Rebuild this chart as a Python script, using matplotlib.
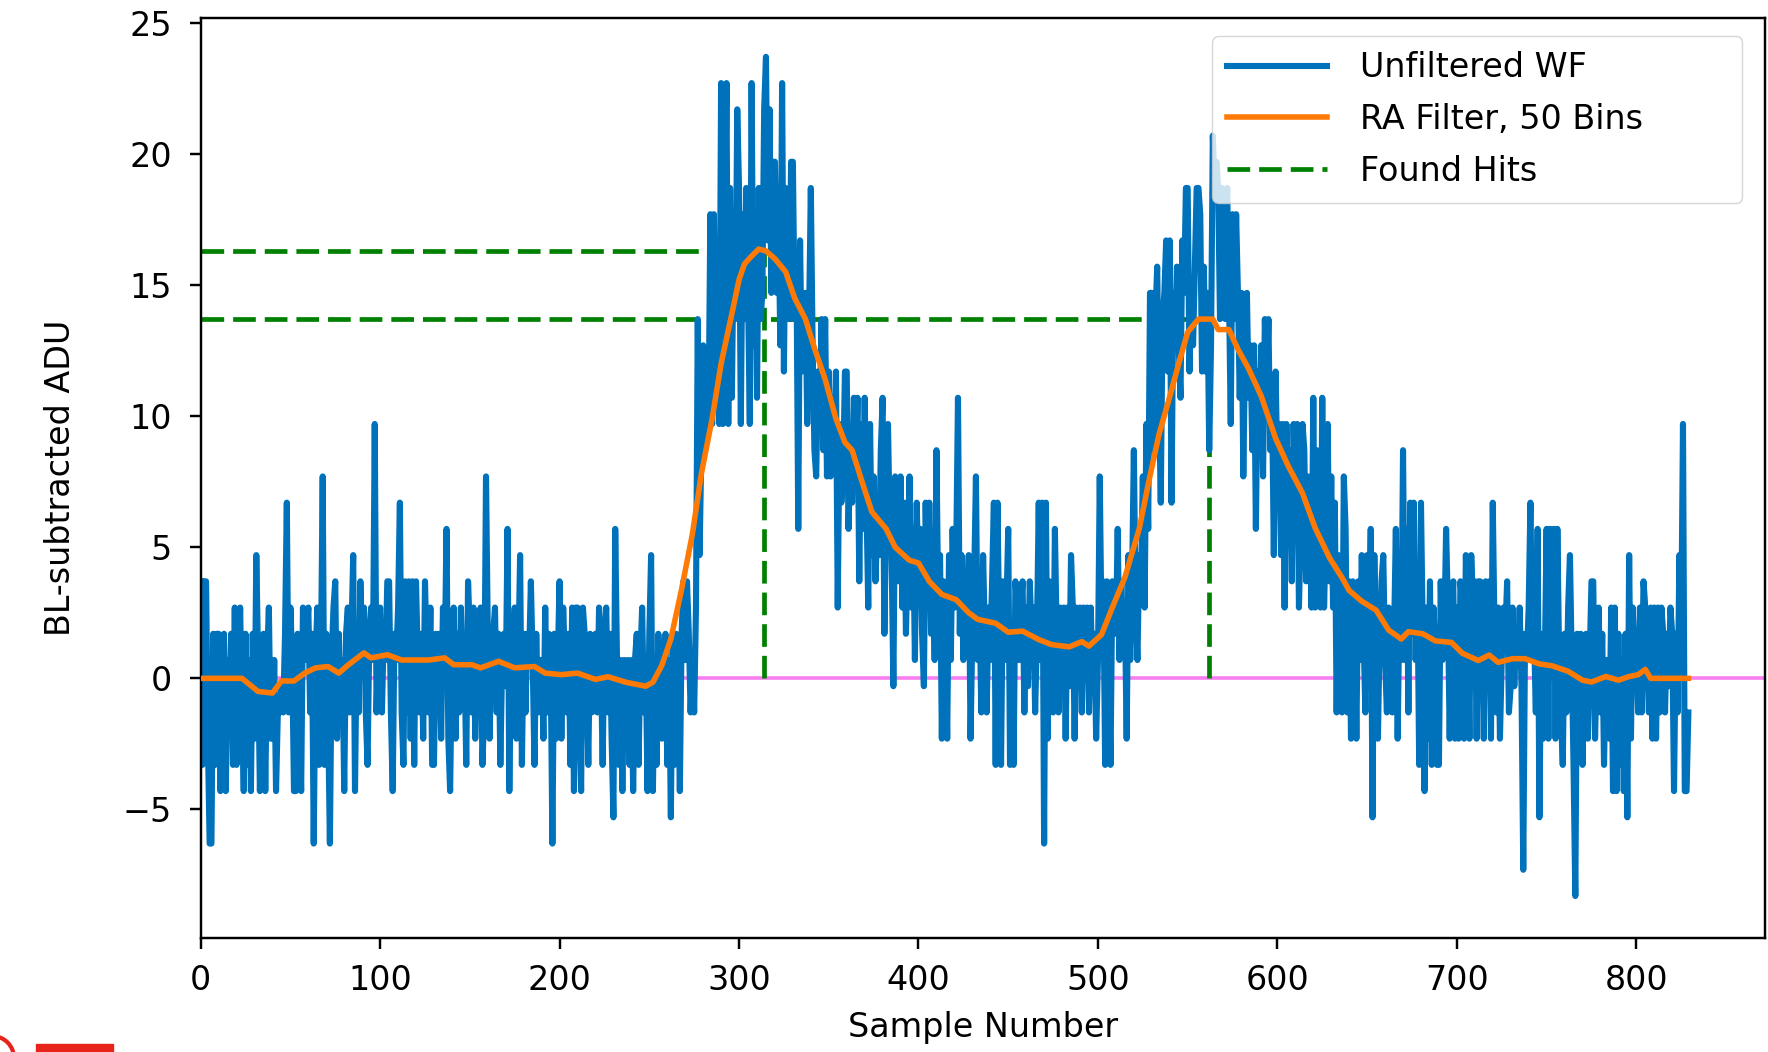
import numpy as np
import matplotlib
matplotlib.use('Agg')
from matplotlib import pyplot as plt
from matplotlib.patches import Rectangle, Arc
from matplotlib.transforms import IdentityTransform

# raw waveform counts, one value per sample (baseline is subtracted below)
wf_counts = [
    4, -3, 4, 4, -2, -6, -6, 2, -3, 2,
    2, -4, 1, 2, -4, 1, -1, 2, -3, 3,
    -3, 1, 3, -1, -4, 2, -3, 1, -4, 2,
    -2, 5, 1, -4, -1, 2, -4, 1, 3, -2,
    -2, 1, -4, -1, -1, 0, -1, 2, 7, -1,
    3, 1, -4, -4, 2, -1, -4, 3, 1, 2,
    3, -1, 2, -6, 1, 3, -3, 1, 8, -3,
    2, -1, -6, 1, 3, 4, -2, 2, -1, 1,
    -4, 2, 3, -1, 2, 5, -4, 2, -1, 4,
    1, 3, -1, -3, 2, 3, 1, 10, -1, 2,
    3, -1, 2, 1, 4, 4, -1, -4, 2, 1,
    3, 7, -1, -3, 4, -1, 4, -2, 4, -3,
    4, 1, -1, 2, -2, 4, 1, -1, 3, -3,
    -3, 2, 1, 2, -2, 3, 1, 6, -2, -4,
    1, 3, -2, 2, -1, 3, 0, 1, -3, 4,
    2, -1, 3, -2, 1, 2, 3, -3, -1, 8,
    2, -2, 1, 2, 3, -1, 2, -3, 1, 2,
    0, 6, -4, 2, 1, 3, -2, 1, 5, -3,
    2, -1, 2, 1, 4, 1, -3, 2, -1, 1,
    1, -2, 3, -1, 2, 1, -6, 2, -2, 1,
    4, -2, 3, 1, -1, 2, -3, 3, -4, 3,
    3, -1, -4, 3, 2, 1, -3, 2, -1, 1,
    2, -1, 3, 1, -3, 2, 3, -1, 2, -2,
    -5, 6, 1, -3, 1, -4, 1, 0, 1, -3,
    1, -4, 1, 2, -3, 1, 3, -1, 1, -4,
    2, 5, -4, 1, -3, 2, 1, -2, 0, 2,
    -3, 1, -5, 2, -3, 2, 1, -4, 2, 4,
    1, 4, 2, -1, 1, -1, 3, 14, 5, 9,
    13, 9, 12, 10, 18, 10, 18, 11, 17, 10,
    23, 10, 16, 23, 10, 19, 11, 17, 14, 22,
    19, 10, 18, 14, 19, 15, 10, 23, 13, 18,
    11, 19, 14, 15, 22, 24, 17, 22, 15, 20,
    20, 15, 18, 13, 23, 12, 19, 17, 14, 20,
    20, 14, 16, 6, 17, 12, 13, 15, 10, 14,
    19, 13, 9, 8, 12, 10, 14, 9, 14, 8,
    12, 8, 11, 9, 12, 3, 10, 7, 8, 12,
    12, 6, 9, 7, 11, 8, 11, 4, 10, 6,
    11, 7, 3, 10, 5, 8, 4, 6, 5, 9,
    11, 2, 7, 10, 6, 5, 0, 8, 7, 4,
    8, 3, 7, 2, 5, 8, 3, 6, 1, 7,
    4, 6, 2, 0, 7, 3, 7, 2, 5, 1,
    9, 3, 5, -2, 4, 2, -2, 5, 1, 6,
    3, 5, 11, 2, 5, 1, 4, 3, 5, -2,
    2, 4, 8, 1, 3, -1, 5, 2, -1, 3,
    1, 4, 7, -3, 7, 2, -3, 4, 1, 3,
    6, -3, 2, -3, 4, 3, 1, 3, 4, -1,
    3, 0, 4, 2, 3, -1, 2, 7, 1, 7,
    -6, 7, -2, 4, 1, -1, 6, 2, -1, 3,
    0, 3, -2, 3, 0, 5, 3, -2, 3, 0,
    3, -1, 3, 1, 3, -1, 3, 0, 2, -2,
    1, 8, 2, 4, -3, 4, 1, -3, 4, 3,
    2, 6, 1, 4, 2, 3, -2, 5, 1, 4,
    9, 3, 1, 5, 4, 8, 3, 10, 6, 15,
    15, 9, 14, 16, 11, 7, 14, 15, 17, 12,
    17, 7, 15, 13, 16, 13, 11, 17, 15, 19,
    19, 12, 15, 13, 16, 19, 19, 18, 12, 16,
    12, 15, 9, 13, 21, 19, 20, 19, 14, 19,
    18, 14, 19, 15, 10, 18, 14, 18, 15, 11,
    15, 8, 13, 15, 11, 13, 9, 13, 6, 12,
    10, 13, 8, 14, 11, 14, 9, 11, 5, 12,
    8, 10, 5, 10, 3, 10, 7, 9, 4, 10,
    7, 10, 3, 6, 10, 9, 4, 8, 6, 3,
    11, 3, 9, 4, 3, 11, 3, 6, 10, 4,
    8, 3, 7, -1, 5, 3, -1, 8, 6, -1,
    4, -2, 4, 3, -2, 4, 1, 5, 2, -1,
    5, 2, 6, -5, 5, 1, -2, 2, 4, 5,
    1, -1, 3, 2, -1, 2, 6, -2, 3, 1,
    9, 1, 6, -1, 7, 2, 7, 1, 4, -3,
    7, 2, -4, 3, -2, 4, -3, 3, 1, -3,
    -3, 4, 1, 2, 6, 3, -2, 3, 4, -2,
    3, -2, 4, 3, -2, 5, 3, -2, 5, 3,
    4, -2, 4, 4, 2, -2, 4, 1, 4, -2,
    7, 2, -1, 3, -2, 1, 3, 2, 4, -1,
    0, 3, 0, 2, 1, 3, 0, -7, 2, 1,
    3, 7, 1, 2, -1, 6, -5, 2, -2, 1,
    6, -2, 6, 1, 6, -2, 6, 1, -1, -3,
    2, -1, 3, 5, 1, -3, -8, 2, -1, 2,
    -3, 1, 2, -2, 1, 4, 4, -2, 1, 3,
    -1, 2, -3, 1, 1, -2, 3, -4, 3, -4,
    2, -3, 1, -4, 2, -5, 5, -2, 3, 1,
    2, -1, 3, -1, 4, 3, 1, -1, 3, -2,
    3, -2, 3, -1, 3, 2, -1, 2, 0, 3,
    2, -4, 2, -1, 5, 2, 10, -4, -4, -1,
]
baseline = 0.3

# running-average curve
ra_x = [0, 23, 32, 40, 45, 52, 58, 64, 71, 77, 82, 91, 95, 104, 112, 127, 136,
        141, 151, 156, 166, 175, 186, 192, 201, 210, 220, 227, 237, 248, 252,
        257, 262, 268, 274, 279, 285, 290, 296, 300, 303, 307, 311, 315, 320,
        326, 331, 337, 342, 348, 354, 359, 363, 369, 374, 382, 387, 395, 400,
        406, 413, 421, 428, 433, 443, 450, 458, 467, 474, 484, 491, 495, 502,
        508, 515, 523, 528, 534, 539, 545, 550, 556, 564, 567, 573, 578, 584,
        591, 599, 606, 614, 621, 629, 636, 640, 647, 655, 662, 669, 673, 681,
        688, 697, 703, 712, 718, 723, 731, 738, 746, 753, 762, 770, 775, 783,
        790, 796, 801, 805, 808, 829]
ra_y = [0, 0, -0.5, -0.56, -0.1, -0.1, 0.2, 0.4, 0.45, 0.2, 0.5, 0.97, 0.78,
        0.9, 0.7, 0.7, 0.78, 0.52, 0.52, 0.4, 0.65, 0.4, 0.45, 0.2, 0.14, 0.2,
        -0.04, 0.06, -0.15, -0.3, -0.15, 0.5, 1.5, 3.4, 5.5, 7.8, 9.9, 12,
        13.9, 15.2, 15.8, 16.1, 16.37, 16.3, 16, 15.5, 14.5, 13.7, 12.6, 11.4,
        9.9, 9.0, 8.7, 7.4, 6.35, 5.7, 5.0, 4.5, 4.4, 3.7, 3.2, 3.0, 2.5, 2.25,
        2.1, 1.76, 1.8, 1.48, 1.29, 1.2, 1.4, 1.23, 1.67, 2.7, 3.85, 5.7, 7.4,
        9.3, 10.5, 12, 13.2, 13.7, 13.7, 13.3, 13.3, 12.55, 11.8, 10.76, 9.15,
        8.1, 7.06, 5.74, 4.6, 3.84, 3.35, 2.94, 2.6, 1.84, 1.5, 1.78, 1.7,
        1.43, 1.37, 0.96, 0.68, 0.89, 0.61, 0.75, 0.75, 0.55, 0.48, 0.27,
        -0.07, -0.14, 0.07, -0.07, 0.07, 0.14, 0.34, 0, 0]

hit_x = [314, 562]
hit_y = [16.3, 13.7]

wf = np.array(wf_counts) - baseline
samples = np.arange(len(wf))

plt.rcParams['axes.linewidth'] = 1.75
plt.rcParams['xtick.major.size'] = 7.7
plt.rcParams['ytick.major.size'] = 7.7
plt.rcParams['xtick.major.width'] = 1.75
plt.rcParams['ytick.major.width'] = 1.75
plt.rcParams['xtick.major.pad'] = 11
plt.rcParams['ytick.major.pad'] = 13
plt.rcParams['font.size'] = 24

fig = plt.figure(figsize=(17.68, 10.52), dpi=100)
ax = fig.add_axes([0.1135, 0.1084, 0.8846, 0.8742])

ax.axhline(0, color='#f77ef0', lw=2.6, zorder=1)
dash = (0, (4.8, 1.9))
ax.hlines(hit_y, 0, hit_x, colors='green', linestyles=dash, lw=3.4,
          zorder=1.5, label='Found Hits')
ax.vlines(hit_x, 0, hit_y, colors='green', linestyles=dash, lw=3.4, zorder=1.5)
ax.plot(samples, wf, color='#0072bb', lw=4.4, zorder=2, label='Unfiltered WF')
ax.plot(ra_x, ra_y, color='#ff7a05', lw=4.0, zorder=3, label='RA Filter, 50 Bins')

ax.set_xlim(0, 871.5)
ax.set_ylim(-9.9, 25.17)
ax.set_xticks(range(0, 801, 100))
ax.set_yticks(range(-5, 26, 5))
ax.set_xlabel('Sample Number')
ax.set_ylabel('BL-subtracted ADU')
ax.xaxis.set_label_coords(0.5, -0.079)
ax.yaxis.set_label_coords(-0.079, 0.5)

h, l = ax.get_legend_handles_labels()
order = [l.index('Unfiltered WF'), l.index('RA Filter, 50 Bins'), l.index('Found Hits')]
ax.legend([h[i] for i in order], [l[i] for i in order], loc='upper right',
          bbox_to_anchor=(0.6467, 0.80, 0.339, 0.1804), mode='expand',
          borderaxespad=0, framealpha=0.8, handlelength=3.0,
          handletextpad=1.0, fontsize=24, labelspacing=0.56, borderpad=0.45)

# red marks cut off at the bottom-left edge of the picture
fig.add_artist(Rectangle((36 / 1768, 0), 77 / 1768, 8 / 1052,
                         transform=fig.transFigure, color='#e8231a'))
fig.add_artist(Arc((-8, -6), 44, 44, theta1=0, theta2=90, lw=3,
                   color='#e8231a', transform=IdentityTransform()))

fig.savefig('out.png', dpi=100)
